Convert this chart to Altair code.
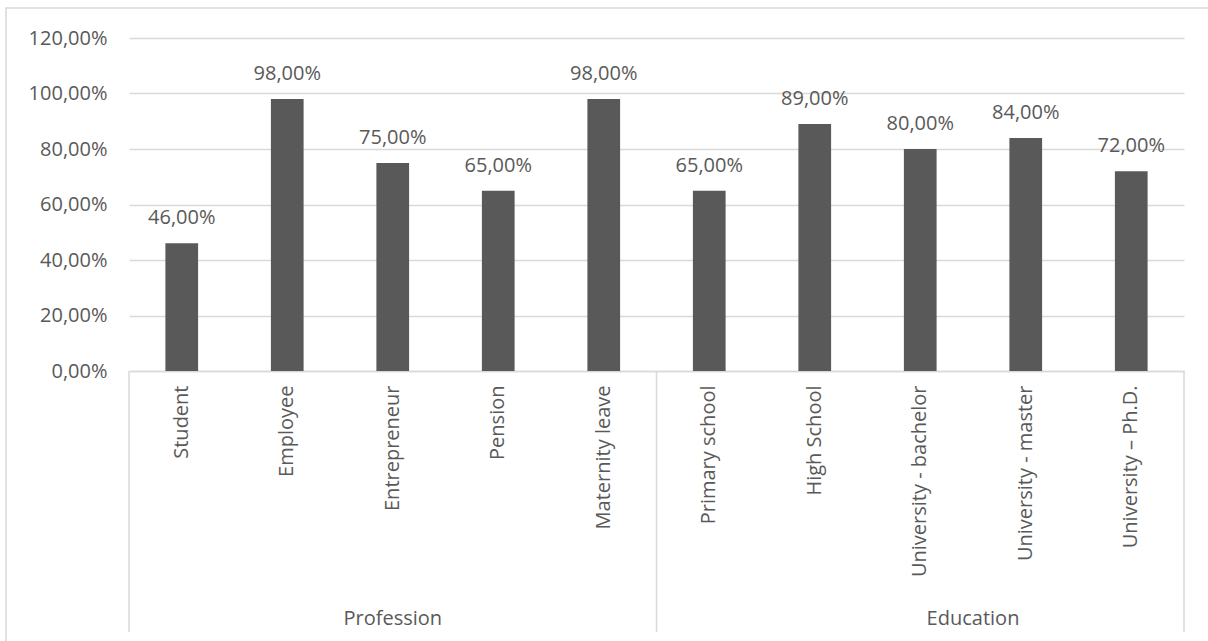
import altair as alt
import pandas as pd

categories = ["Student", "Employee", "Entrepreneur", "Pension", "Maternity leave",
              "Primary school", "High School", "University - bachelor",
              "University - master", "University \u2013 Ph.D."]
groups = ["Profession", "Profession", "Profession", "Profession", "Profession",
          "Education", "Education", "Education", "Education", "Education"]
values = [46, 98, 75, 65, 98, 65, 89, 80, 84, 72]
y_ticks = [0, 20, 40, 60, 80, 100, 120]

group_names = ["Profession", "Education"]
group_center_cat = ["Entrepreneur", "University - master"]
sep_left_cats = ["Student", "Primary school"]
sep_right_cats = ["University \u2013 Ph.D."]

FONT = "Open Sans"
FS = 20
TXT = "#595959"
LINE = "#d9d9d9"
W, H = 1055, 333

df = pd.DataFrame({"category": categories, "group": groups, "value": values})

xenc_scale = alt.Scale(domain=categories, paddingInner=0, paddingOuter=0)

base = alt.Chart(df)

bars = base.mark_bar(color="#595959", width=alt.RelativeBandSize(0.31)).encode(
    x=alt.X("category:N", sort=categories, scale=xenc_scale,
            axis=alt.Axis(title=None, labelAngle=270, labelFont=FONT, labelFontSize=FS,
                          labelColor=TXT, ticks=False, domainColor=LINE, domainWidth=1.5,
                          labelPadding=14, labelLimit=300)),
    y=alt.Y("value:Q", scale=alt.Scale(domain=[0, 120], nice=False),
            axis=alt.Axis(title=None, values=y_ticks, domain=False, ticks=False,
                          labelFont=FONT, labelFontSize=FS, labelColor=TXT,
                          labelPadding=22, gridColor=LINE, gridWidth=1.5,
                          labelExpr="replace(format(datum.value, '.2f'), '.', ',') + '%'")),
)

labels = base.transform_calculate(
    lbl="replace(format(datum.value, '.2f'), '.', ',') + '%'"
).mark_text(font=FONT, fontSize=FS, color=TXT, baseline="alphabetic", dy=-19).encode(
    x=alt.X("category:N", sort=categories, scale=xenc_scale),
    y=alt.Y("value:Q"),
    text="lbl:N",
)

sep_l = alt.Chart(pd.DataFrame({"category": sep_left_cats})).mark_rule(
    color=LINE, strokeWidth=1.5).encode(
    x=alt.X("category:N", sort=categories, scale=xenc_scale, bandPosition=0),
    y=alt.value(H), y2=alt.value(594),
)
sep_r = alt.Chart(pd.DataFrame({"category": sep_right_cats})).mark_rule(
    color=LINE, strokeWidth=1.5).encode(
    x=alt.X("category:N", sort=categories, scale=xenc_scale, bandPosition=1),
    y=alt.value(H), y2=alt.value(594),
)

g1 = alt.Chart(pd.DataFrame({"category": [group_center_cat[0]], "g": [group_names[0]]})).mark_text(
    font=FONT, fontSize=FS, color=TXT, baseline="middle").encode(
    x=alt.X("category:N", sort=categories, scale=xenc_scale, bandPosition=0.5),
    y=alt.value(581), text="g:N",
)
g2 = alt.Chart(pd.DataFrame({"category": [group_center_cat[1]], "g": [group_names[1]]})).mark_text(
    font=FONT, fontSize=FS, color=TXT, baseline="middle").encode(
    x=alt.X("category:N", sort=categories, scale=xenc_scale, bandPosition=0),
    y=alt.value(581), text="g:N",
)

frame = alt.Chart(pd.DataFrame({"a": [0]})).mark_rect(
    fill=None, stroke=LINE, strokeWidth=1.5).encode(
    x=alt.value(-123), x2=alt.value(1100), y=alt.value(-30), y2=alt.value(640),
)

chart = alt.layer(frame, bars, labels, sep_l, sep_r, g1, g2).properties(
    width=W, height=H,
    autosize=alt.AutoSizeParams(type="none"),
    padding={"left": 129, "top": 38, "right": 24, "bottom": 270},
    background="white",
).configure_view(stroke=None)

chart.save("out.html", embed_options={"renderer": "svg", "actions": False})
